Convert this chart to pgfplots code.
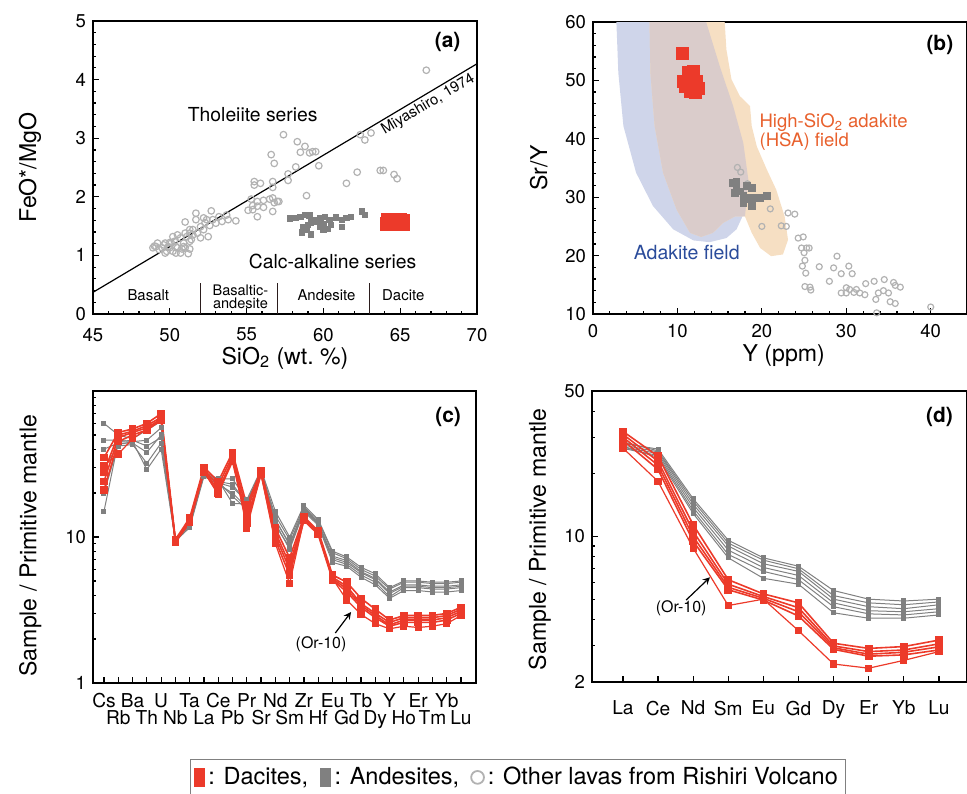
\documentclass[border=0pt]{standalone}
\usepackage{fontspec}
\setmainfont{TeX Gyre Heros}
\usepackage{pgfplots}
\usepackage{pgfplotstable}
\pgfplotsset{compat=1.18}
\definecolor{dac}{RGB}{236,58,42}
\definecolor{and}{RGB}{128,128,128}
\definecolor{oth}{RGB}{178,178,178}
\definecolor{adak}{RGB}{207,213,234}
\definecolor{hsa}{RGB}{246,223,195}
\definecolor{ovl}{RGB}{218,204,203}
\definecolor{hsatxt}{RGB}{232,96,44}
\definecolor{adaktxt}{RGB}{43,76,155}
\definecolor{divc}{RGB}{43,29,29}

\pgfplotsset{
  myax/.style={scale only axis, anchor=south west, tick pos=left, tick align=inside,
    /pgf/number format/assume math mode=true,
    tick label style={font=\fontsize{9.3}{11}\selectfont},
    label style={font=\fontsize{11.6}{13}\selectfont},
    major tick length=3bp, minor tick length=1.6bp,
    axis line style={line width=0.6bp},
    every tick/.style={line width=0.6bp, black}},
  gl/.style={color=and, line width=0.5bp, mark=square*, mark size=1bp},
  rl/.style={color=dac, line width=0.8bp, mark=square*, mark size=1.5bp},
}
\newcommand{\up}[1]{\strut#1}
\newcommand{\lo}[1]{\strut\smash{\raisebox{-8.6bp}{#1}}}

% spider diagram (c): Cs ... Lu
\pgfplotstableread{
i  G1   G2   G3   G4   G5   G6   R1   R2   R3   R4   R5
0  60   46   40   30   20   15   35   28   24   21   31
1  50   46   44   42   43   45   52   50   48   45   37
2  47   45   44   43   45   46   55   53   52   50   47
3  54   46   38   32   29   42   60   58   56   54   55
4  62   56   50   44   40   48   70   66   64   63   65
5  9.8  9.6  9.4  9.3  9.5  9.7  9.6  9.4  9.3  9.2  9.3
6  12.5 12.0 11.6 11.8 12.2 12.3 13.5 13.0 12.8 12.6 12.5
7  28   27   26   27   27.5 26.5 30   29   28.5 28   28
8  25   24   23   24   24.5 23.5 24   22.5 21   20   19.5
9  25   23   20   19   17   22   38   36   34   33   35
10 18   17   16   15.5 16.8 17.5 16.5 15   13.5 12.5 11.5
11 29   28   27.5 28   28.5 28   28.5 28   27.5 27   27
12 15   13   12.5 12   13.2 14   11.5 10.8 10.2 9.5  9.0
13 10   9.0  8.2  8.5  8.8  9.6  7.2  6.5  6.0  5.5  4.8
14 16.5 15.5 15   15.2 15.8 16   13.8 13.5 13.2 13.0 13.2
15 13.2 12.5 12   12.3 12.6 13   11.0 10.8 10.6 10.4 10.6
16 8.0  7.2  6.7  7.0  7.4  7.8  5.5  5.3  5.2  5.1  5.2
17 7.3  6.7  6.3  6.5  6.9  7.1  4.9  4.6  4.4  4.2  3.7
18 6.2  5.7  5.3  5.5  5.8  6.0  3.8  3.5  3.4  3.3  2.95
19 5.6  5.1  4.7  4.9  5.2  5.4  3.2  3.0  2.9  2.8  2.55
20 4.5  4.1  3.8  3.9  4.2  4.4  2.7  2.6  2.5  2.45 2.35
21 5.0  4.6  4.3  4.5  4.7  4.9  2.9  2.8  2.7  2.6  2.45
22 5.0  4.6  4.3  4.5  4.7  4.9  2.9  2.8  2.7  2.6  2.4
23 4.9  4.5  4.2  4.4  4.6  4.8  2.9  2.8  2.7  2.6  2.45
24 4.9  4.5  4.2  4.4  4.6  4.8  3.0  2.9  2.8  2.7  2.55
25 5.0  4.6  4.3  4.5  4.7  4.9  3.3  3.2  3.1  3.0  2.9
}\spider

% REE diagram (d): La Ce Nd Sm Eu Gd Dy Er Yb Lu
\pgfplotstableread{
i  G1   G2   G3   G4   G5   G6   R1   R2   R3   R4   R5
0  28   27.5 27   26.5 27   28.5 32   31   30   29   26.6
1  26.3 25.5 25   24.5 24   25.8 24.3 23   22   21   18.4
2  15.2 14.3 13.8 13.3 12.9 14.8 11.4 10.6 10.0 9.5  8.8
3  9.6  9.0  8.6  8.2  7.9  9.3  6.2  5.9  5.7  5.55 4.66
4  7.9  7.4  7.1  6.8  6.3  7.7  5.3  5.15 5.05 4.95 5.0
5  7.2  6.8  6.5  6.2  5.9  7.0  4.8  4.55 4.35 4.15 3.53
6  5.5  5.0  4.8  4.6  4.3  5.2  3.07 2.98 2.92 2.87 2.44
7  5.0  4.6  4.4  4.25 4.05 4.8  2.9  2.8  2.72 2.66 2.33
8  4.9  4.5  4.35 4.2  4.05 4.7  2.96 2.85 2.78 2.7  2.54
9  5.0  4.7  4.5  4.35 4.2  4.85 3.18 3.05 2.95 2.85 2.8
}\ree

\begin{document}
\begin{tikzpicture}
\useasboundingbox (0,0) rectangle (483.5bp,-397bp);

% ---------------- (a)
\begin{axis}[myax, at={(46.5bp,-157bp)}, width=192bp, height=146.5bp,
  xmin=45, xmax=70, ymin=0, ymax=5,
  xtick={45,50,...,70}, ytick={0,1,...,5},
  minor x tick num=4, minor y tick num=4,
  x tick label style={yshift=-3.5bp},
  xlabel={SiO\textsubscript{2} (wt.\ \%)}, ylabel={FeO*/MgO},
  x label style={at={(axis description cs:0.5,-0.15)}, anchor=center},
  y label style={at={(axis description cs:-0.164,0.5)}, anchor=center}]
\addplot[black, line width=0.6bp] coordinates {(45,0.37) (70,4.27)};
\addplot[divc, line width=0.7bp] coordinates {(52,0) (52,0.53)};
\addplot[divc, line width=0.7bp] coordinates {(57,0) (57,0.53)};
\addplot[divc, line width=0.7bp] coordinates {(63,0) (63,0.53)};
\addplot[only marks, mark=o, mark size=1.65bp, color=oth, mark options={line width=0.6bp}] coordinates {
(66.7,4.16)(57.4,3.06)(58.3,2.94)(58.8,2.86)(59.3,2.77)(58.5,2.76)(59.1,2.75)(59.5,2.77)
(59.7,2.53)(58.2,2.51)(56.6,2.72)(56.8,2.57)(57.7,2.39)(57.7,2.28)(55.5,2.26)(55.9,2.23)
(55.5,2.20)(56.7,2.26)(56.7,2.16)(58.9,2.02)(62.4,3.06)(62.7,2.97)(63.1,3.09)(62.2,2.42)
(61.5,2.23)(63.7,2.45)(63.9,2.45)(64.6,2.38)(64.8,2.31)
(55.3,1.96)(55.7,1.92)(56.1,1.94)(56.5,1.96)(56.7,1.98)(57.0,1.92)(57.1,1.92)(55.4,1.85)
(55.7,1.84)(56.1,1.82)(55.4,1.78)(56.7,1.75)(55.7,1.66)(55.1,1.77)(56.8,1.90)
(52.7,1.76)(51.7,1.72)(52.2,1.64)(52.4,1.61)(53.2,1.66)(53.7,1.69)(53.8,1.61)(54.3,1.59)
(53.0,1.55)(52.6,1.51)(52.0,1.49)(51.3,1.38)(51.0,1.57)(52.5,1.32)(52.0,1.30)(51.7,1.61)
(52.3,1.56)(52.8,1.61)(53.4,1.58)(51.5,1.44)(51.8,1.38)(52.2,1.44)(51.3,1.24)
(51.4,1.27)(50.9,1.21)(50.4,1.15)(50.0,1.13)(49.6,1.18)(49.1,1.15)(49.3,1.10)(49.8,1.07)
(50.2,1.07)(50.7,1.04)(51.2,1.03)(51.0,1.13)(50.1,1.21)(49.7,1.21)(51.1,1.32)(50.7,1.30)
(50.3,1.24)(50.5,1.13)(50.8,1.11)(49.9,1.15)(49.5,1.13)(49.2,1.21)(49.0,1.16)(48.9,1.13)
(50.2,1.32)(50.5,1.35)(51.3,1.44)(51.0,1.38)(51.5,1.35)(50.4,1.04)(49.7,1.04)(50.0,1.22)
(50.9,1.15)(51.3,1.11)};
\addplot[only marks, mark=square*, mark size=1.35bp, color=and] coordinates {
(57.8,1.63)(58.2,1.64)(58.5,1.66)(58.8,1.69)(59.1,1.68)(59.5,1.61)(59.8,1.64)(60.1,1.66)
(60.4,1.61)(60.8,1.65)(61.2,1.61)(61.5,1.64)(61.8,1.66)(62.5,1.75)(62.7,1.69)(58.7,1.49)
(59.0,1.52)(59.2,1.56)(59.6,1.58)(60.0,1.54)(60.5,1.52)(61.2,1.49)(58.6,1.39)(59.2,1.36)
(60.0,1.44)(60.3,1.45)(58.9,1.44)(59.8,1.49)};
\addplot[only marks, mark=square*, mark size=1.6bp, color=dac] coordinates {
(63.9,1.48)(64.2,1.48)(64.5,1.48)(64.8,1.48)(65.1,1.48)(65.4,1.48)
(63.9,1.54)(64.2,1.54)(64.5,1.54)(64.8,1.54)(65.1,1.54)(65.4,1.54)
(63.9,1.60)(64.2,1.60)(64.5,1.60)(64.8,1.60)(65.1,1.60)(65.4,1.60)
(64.0,1.66)(64.3,1.66)(64.6,1.66)(64.9,1.66)(65.2,1.66)(65.4,1.65)};
\node[font=\fontsize{9.7}{11}\selectfont] at (axis cs:55.4,3.4) {Tholeiite series};
\node[font=\fontsize{9.7}{11}\selectfont] at (axis cs:60.6,0.89) {Calc-alkaline series};
\node[rotate=30.6, anchor=north, inner sep=1.2bp, font=\fontsize{7.5}{8}\selectfont] at (axis cs:66.5,3.72) {Miyashiro, 1974};
\node[font=\fontsize{7.5}{8}\selectfont] at (axis cs:48.6,0.32) {Basalt};
\node[font=\fontsize{7.3}{6.6}\selectfont, align=center] at (axis cs:54.6,0.3) {Basaltic-\\andesite};
\node[font=\fontsize{7.5}{8}\selectfont] at (axis cs:60.2,0.32) {Andesite};
\node[font=\fontsize{7.5}{8}\selectfont] at (axis cs:65.2,0.32) {Dacite};
\node[anchor=north east, font=\bfseries\fontsize{10.5}{12}\selectfont] at (rel axis cs:0.975,0.985) {(a)};
\end{axis}

% ---------------- (b)
\begin{axis}[myax, at={(296.5bp,-157bp)}, width=187bp, height=146bp,
  xmin=0, xmax=44.3, ymin=10, ymax=60,
  xtick={0,10,...,40}, ytick={10,20,...,60},
  minor x tick num=4, minor y tick num=4,
  x tick label style={yshift=-1.8bp},
  xlabel={Y (ppm)}, ylabel={Sr/Y},
  x label style={at={(axis description cs:0.51,-0.142)}, anchor=center},
  y label style={at={(axis description cs:-0.145,0.5)}, anchor=center}]
\addplot[fill=adak, draw=none] coordinates {
(2.77,60)(13.4,60)(15.0,52.5)(16.6,45.6)(17.8,39.3)(18.4,33.0)(18.2,29.6)(17.8,27.0)
(17.0,24.5)(15.8,23.0)(13.8,22.3)(11.9,22.6)(9.5,24.5)(7.1,28.5)(5.1,34.2)(3.6,42.2)(3.0,51.3)(2.77,60)};
\addplot[fill=hsa, draw=none] coordinates {
(6.7,60)(15.6,60)(15.8,55.3)(16.4,50.2)(17.4,47.3)(18.6,45.6)(18.8,42.2)(19.4,38.7)
(20.6,34.7)(21.7,31.3)(22.7,26.7)(23.1,22.7)(22.5,20.2)(21.1,19.9)(19.8,21.3)(18.8,23.9)
(18.0,26.7)(16.8,26.7)(15.4,25.6)(14.2,23.9)(12.8,23.2)(11.5,23.9)(9.9,27.9)(8.3,34.2)
(7.3,42.2)(6.8,51.3)(6.7,60)};
\addplot[fill=ovl, draw=none] coordinates {
(6.7,60)(13.4,60)(15.0,52.5)(16.6,45.6)(17.8,39.3)(18.4,33.0)(18.2,29.6)(18.0,26.7)
(16.8,26.7)(15.4,25.6)(14.2,23.9)(12.8,23.2)(11.5,23.9)(9.9,27.9)(8.3,34.2)(7.3,42.2)(6.8,51.3)(6.7,60)};
\addplot[only marks, mark=o, mark size=1.5bp, color=oth, mark options={line width=0.6bp}] coordinates {
(17.1,35.1)(17.5,34.3)(18.3,32.3)(21.0,28.0)(23.1,27.3)(23.9,27.1)(20.0,25.0)(22.3,25.1)
(22.9,25.0)(24.3,23.0)(24.9,23.2)(24.7,21.3)(25.3,21.3)(25.6,21.3)(25.0,20.5)(25.1,19.2)
(24.8,18.2)(25.2,17.0)(25.1,14.7)(25.7,14.6)(25.8,14.1)(26.8,18.1)(28.0,15.6)(28.5,17.9)
(28.9,19.9)(29.4,16.9)(30.3,18.2)(30.7,16.9)(29.4,13.6)(30.0,13.6)(30.0,14.5)(30.4,14.2)
(30.9,13.7)(31.2,14.2)(31.6,13.6)(32.2,13.3)(32.3,15.2)(33.3,15.6)(34.5,15.9)(33.8,13.6)
(33.5,12.5)(34.4,14.0)(35.0,13.6)(35.6,15.4)(35.8,14.9)(36.4,14.6)(35.2,12.1)(35.8,11.8)
(33.6,10.2)(40.0,11.2)};
\addplot[only marks, mark=square*, mark size=1.65bp, color=and] coordinates {
(16.6,32.5)(17.0,31.9)(16.8,30.7)(17.4,31.0)(17.8,30.2)(18.2,31.9)(18.8,31.6)(18.4,29.9)
(19.0,29.9)(19.8,29.9)(20.6,30.2)(17.8,29.0)(18.8,28.5)(17.0,32.7)(18.2,29.6)};
\addplot[only marks, mark=square*, mark size=3bp, color=dac] coordinates {
(10.6,54.7)(11.3,51.3)(11.9,51.6)(10.7,49.9)(11.5,49.6)(12.3,49.9)(12.5,48.7)(11.5,48.2)
(12.1,47.9)(10.9,49.0)(11.9,50.5)};
\node[anchor=west, align=left, text=hsatxt, font=\fontsize{9.3}{9.6}\selectfont] at (axis cs:18.9,41.2) {High-SiO\textsubscript{2} adakite\\(HSA) field};
\node[anchor=west, text=adaktxt, font=\fontsize{9.8}{11}\selectfont] at (axis cs:4.0,20.6) {Adakite field};
\node[anchor=north east, font=\bfseries\fontsize{10.5}{12}\selectfont] at (rel axis cs:0.982,0.98) {(b)};
\end{axis}

% ---------------- (c)
\begin{axis}[myax, at={(46.5bp,-341.5bp)}, width=191.5bp, height=146bp,
  ymode=log, xmin=-0.77, xmax=26.05, ymin=1, ymax=100,
  xtick={0,...,25},
  xticklabels={\up{Cs},\lo{Rb},\up{Ba},\lo{Th},\up{U},\lo{Nb},\up{Ta},\lo{La},\up{Ce},\lo{Pb},\up{Pr},\lo{Sr},\up{Nd},\lo{Sm},\up{Zr},\lo{Hf},\up{Eu},\lo{Gd},\up{Tb},\lo{Dy},\up{Y},\lo{Ho},\up{Er},\lo{Tm},\up{Yb},\lo{Lu}},
  x tick label style={font=\fontsize{9.6}{11}\selectfont, inner sep=1bp, yshift=-3.5bp},
  ytick={1,10,100}, yticklabels={1,10,},
  minor ytick={2,3,4,5,6,7,8,9,20,30,40,50,60,70,80,90},
  ylabel={Sample / Primitive mantle},
  y label style={at={(axis description cs:-0.164,0.47)}, anchor=center},
  legend columns=3,
  legend style={at={(axis description cs:0.253,-0.26)}, anchor=north west, draw=gray, line width=0.6bp,
    font=\fontsize{11.8}{14}\selectfont, inner sep=1.8bp,
    /tikz/every even column/.append style={column sep=0bp},
    /tikz/every odd column/.append style={column sep=0bp}},
  legend cell align=left,
  legend image code/.code={\draw[#1] plot coordinates {(3bp,0bp)};}]
\addlegendimage{only marks, mark=square*, mark size=4.3bp, color=dac, mark options={xscale=0.6}}
\addlegendimage{only marks, mark=square*, mark size=4.3bp, color=and, mark options={xscale=0.6}}
\addlegendimage{only marks, mark=o, mark size=3.2bp, color=oth, mark options={line width=0.9bp}}
\legend{{: Dacites,\hspace*{4bp}\mbox{}},{: Andesites,\hspace*{4bp}\mbox{}},{: Other lavas from Rishiri Volcano}}
\addplot[gl] table[x=i,y=G1] {\spider};
\addplot[gl] table[x=i,y=G2] {\spider};
\addplot[gl] table[x=i,y=G3] {\spider};
\addplot[gl] table[x=i,y=G4] {\spider};
\addplot[gl] table[x=i,y=G5] {\spider};
\addplot[gl] table[x=i,y=G6] {\spider};
\addplot[rl] table[x=i,y=R1] {\spider};
\addplot[rl] table[x=i,y=R2] {\spider};
\addplot[rl] table[x=i,y=R3] {\spider};
\addplot[rl] table[x=i,y=R4] {\spider};
\addplot[rl, line width=0.6bp] table[x=i,y=R5] {\spider};
\draw[-stealth, line width=0.6bp] (axis cs:16.2,2.2) -- (axis cs:17.3,3.06);
\node[font=\fontsize{8}{9}\selectfont] at (axis cs:15.2,1.83) {(Or-10)};
\node[anchor=north east, font=\bfseries\fontsize{10.5}{12}\selectfont] at (rel axis cs:0.979,0.97) {(c)};
\end{axis}

% ---------------- (d)
\begin{axis}[myax, at={(296bp,-341bp)}, width=187.5bp, height=145.5bp,
  ymode=log, xmin=-0.88, xmax=9.8, ymin=2, ymax=50,
  xtick={0,...,9},
  xticklabels={La,Ce,Nd,Sm,Eu,Gd,Dy,Er,Yb,Lu},
  x tick label style={font=\fontsize{9.6}{11}\selectfont, yshift=-6bp},
  ytick={2,10,50}, yticklabels={2,10,50},
  minor ytick={3,4,5,6,7,8,9,20,30,40},
  ylabel={Sample / Primitive mantle},
  y label style={at={(axis description cs:-0.139,0.49)}, anchor=center}]
\addplot[gl] table[x=i,y=G1] {\ree};
\addplot[gl] table[x=i,y=G2] {\ree};
\addplot[gl] table[x=i,y=G3] {\ree};
\addplot[gl] table[x=i,y=G4] {\ree};
\addplot[gl] table[x=i,y=G5] {\ree};
\addplot[gl] table[x=i,y=G6] {\ree};
\addplot[rl] table[x=i,y=R1] {\ree};
\addplot[rl] table[x=i,y=R2] {\ree};
\addplot[rl] table[x=i,y=R3] {\ree};
\addplot[rl] table[x=i,y=R4] {\ree};
\addplot[rl, line width=0.6bp] table[x=i,y=R5] {\ree};
\draw[-stealth, line width=0.6bp] (axis cs:1.8,4.95) -- (axis cs:2.48,6.37);
\node[font=\fontsize{8}{9}\selectfont] at (axis cs:1.66,4.52) {(Or-10)};
\node[anchor=north east, font=\bfseries\fontsize{10.5}{12}\selectfont] at (rel axis cs:0.981,0.97) {(d)};
\end{axis}
\end{tikzpicture}
\end{document}
